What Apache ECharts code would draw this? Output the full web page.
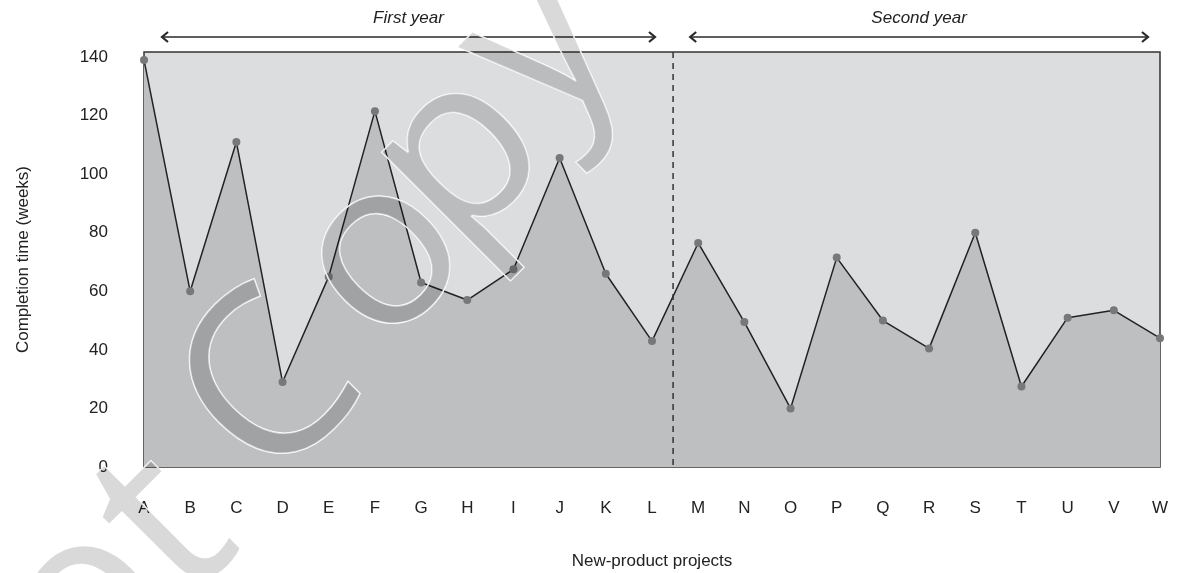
<!DOCTYPE html>
<html>
<head>
<meta charset="utf-8">
<script src="https://cdn.jsdelivr.net/npm/echarts@6/dist/echarts.min.js"></script>
<style>html,body{margin:0;padding:0;background:#fff}#c{width:1186px;height:573px}</style>
</head>
<body>
<div id="c"></div>
<script>
const categories = ['A','B','C','D','E','F','G','H','I','J','K','L','M','N','O','P','Q','R','S','T','U','V','W'];
const completionWeeks = [139,60,111,29,65,121.5,63,57,67.5,105.5,66,43,76.5,49.5,20,71.5,50,40.5,80,27.5,51,53.5,44];
const yTicks = [0,20,40,60,80,100,120,140];
const periodLabels = ['First year','Second year'];

(function () {
const FONT = 'Liberation Sans';
const chart = echarts.init(document.getElementById('c'));
const option = {
  animation: false,
  grid: { left: 144, right: 26, top: 52, bottom: 106, outerBoundsMode: 'none', containLabel: false,
    show: true, backgroundColor: '#dcdddf', borderColor: '#333', borderWidth: 1.5 },
  xAxis: {
    type: 'category', data: categories, boundaryGap: false,
    name: 'New-product projects', nameLocation: 'middle', nameGap: 86,
    nameTextStyle: { fontFamily: FONT, fontSize: 17, color: '#222' },
    axisLine: { show: false }, axisTick: { show: false },
    axisLabel: { margin: 33, fontFamily: FONT, fontSize: 17, color: '#222' },
    splitLine: { show: false }
  },
  yAxis: {
    type: 'value', min: 0, max: 141.7, interval: 20,
    name: 'Completion time (weeks)', nameLocation: 'middle', nameGap: 112, nameRotate: 90,
    nameTextStyle: { fontFamily: FONT, fontSize: 17, color: '#222' },
    axisLine: { show: false }, axisTick: { show: false }, splitLine: { show: false },
    axisLabel: { margin: 36, fontFamily: FONT, fontSize: 17, color: '#222',
      formatter: v => yTicks.indexOf(Math.round(v * 1000) / 1000) >= 0 ? String(v) : '' }
  },
  series: [{
    type: 'line', data: completionWeeks,
    symbol: 'circle', symbolSize: 8,
    itemStyle: { color: '#77787a' },
    lineStyle: { color: '#222', width: 1.5 },
    areaStyle: { color: '#bebfc1', opacity: 1 },
    z: 3
  }]
};
chart.setOption(option);

function px(i) { return chart.convertToPixel({ xAxisIndex: 0 }, i); }
const xA = px(0), xL = px(11), xM = px(12), xW = px(22);
const plotTop = 52, plotBottom = 467, arrowY = 37;
const a1 = [xA + 18, xL + 3], a2 = [xM - 8, xW - 12];
const midX = (xL + xM) / 2 - 2;
const lineC = '#2a2a2a';
function arrow(x1, x2) {
  return [
    { type: 'line', shape: { x1: x1, y1: arrowY, x2: x2, y2: arrowY }, style: { stroke: lineC, lineWidth: 1.5 } },
    { type: 'polyline', shape: { points: [[x1 + 6, arrowY - 5], [x1, arrowY], [x1 + 6, arrowY + 5]] }, style: { stroke: lineC, lineWidth: 2.2, fill: null } },
    { type: 'polyline', shape: { points: [[x2 - 6, arrowY - 5], [x2, arrowY], [x2 - 6, arrowY + 5]] }, style: { stroke: lineC, lineWidth: 2.2, fill: null } }
  ];
}
const wmStyle = { font: '235px "Open Sans"', fill: 'rgba(0,0,0,0.15)', stroke: '#fff', lineWidth: 1.5, verticalAlign: 'middle' };
const wmLetters = [['C', 273, 392], ['o', 383, 257], ['p', 460, 157], ['y', 541, 47]];
const wm = wmLetters.map(l => ({ type: 'text', x: l[1], y: l[2], rotation: Math.PI / 4, z: 100,
  style: Object.assign({ text: l[0], align: 'center' }, wmStyle) }));
wm.push({ type: 'text', x: 197, y: 498, rotation: Math.PI / 4, z: 100,
  style: Object.assign({ text: 'Do Not', align: 'right' }, wmStyle) });

const graphics = [].concat(
  arrow(a1[0], a1[1]), arrow(a2[0], a2[1]),
  [
    { type: 'text', x: (a1[0] + a1[1]) / 2, y: 18, style: { text: periodLabels[0], font: 'italic 17px ' + FONT, fill: '#222', align: 'center', verticalAlign: 'middle' } },
    { type: 'text', x: (a2[0] + a2[1]) / 2, y: 18, style: { text: periodLabels[1], font: 'italic 17px ' + FONT, fill: '#222', align: 'center', verticalAlign: 'middle' } },
    { type: 'line', shape: { x1: midX, y1: plotTop, x2: midX, y2: plotBottom }, style: { stroke: '#333', lineWidth: 1.5, lineDash: [6, 5] }, z: 10 }
  ],
  wm
);
chart.setOption({ graphic: graphics });
})();
</script>
</body>
</html>
